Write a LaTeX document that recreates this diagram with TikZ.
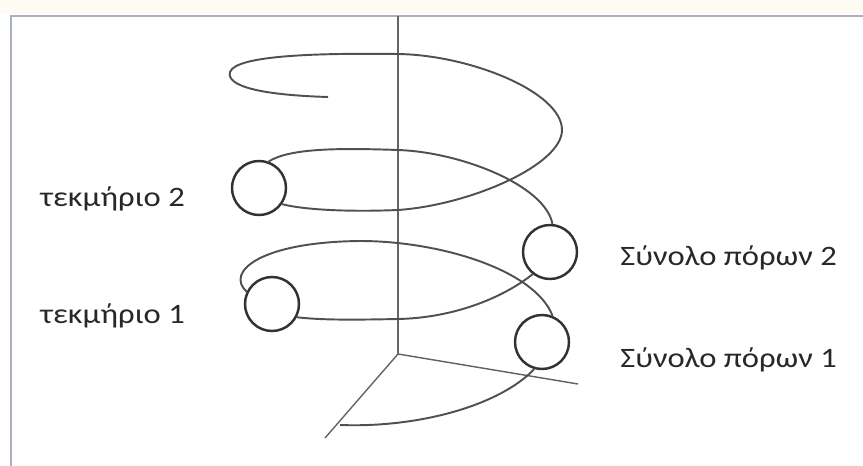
\documentclass[tikz,border=0pt]{standalone}
\usepackage{fontspec}
\setmainfont{Carlito}
\usepackage{tikz}
\usetikzlibrary{arrows,arrows.meta}

\definecolor{coilgray}{RGB}{80,80,80}
\definecolor{axisgray}{RGB}{100,100,100}
\definecolor{ringgray}{RGB}{50,50,50}
\definecolor{textgray}{RGB}{40,40,40}
\definecolor{framegray}{RGB}{168,178,190}
\definecolor{bandtint}{RGB}{253,251,243}

\begin{document}
\begin{tikzpicture}[
x=0.02cm, y=-0.02cm,
ring/.style={circle,draw=ringgray,line width=1.4pt,minimum size=1.08cm,inner sep=0pt},
coil/.style={draw=coilgray,line width=1.1pt},
axis/.style={draw=axisgray,line width=0.8pt},
lbl/.style={font=\fontsize{16}{19}\selectfont,text=textgray,anchor=base west,inner sep=0pt,xscale=1.16,transform shape} ]

\useasboundingbox (0,0) rectangle (863,466);
\fill[bandtint] (0,0) rectangle (863,14);
\draw[framegray,line width=1.7pt] (11,466) -- (11,16) -- (863,16);

\coordinate (o) at (398,354);
\coordinate (ztop) at (398,16);
\coordinate (xend) at (578,384);
\coordinate (yend) at (325,438);
\coordinate (start) at (328,97);
\coordinate (foot) at (340,425);

\draw[axis] (ztop) -- (o);
\draw[axis] (o) -- (xend);
\draw[axis] (o) -- (yend);

\node[ring] (t2) at (259,188) {};
\node[ring] (s2) at (550,252) {};
\node[ring] (t1) at (272,304) {};
\node[ring] (s1) at (542,342) {};

\draw[coil] (start) .. controls (260,95) and (226,86) .. (230,72)
  .. controls (236,55) and (320,53) .. (398,54)
  .. controls (470,55) and (562,92) .. (562,130)
  .. controls (562,165) and (470,205) .. (398,210)
  .. controls (350,212) and (305,210) .. (t2.-35);
\draw[coil] (t2.70) .. controls (290,148) and (340,148) .. (398,150)
  .. controls (460,152) and (545,185) .. (s2.85);
\draw[coil] (s2.-128) .. controls (500,300) and (450,318) .. (398,319)
  .. controls (350,320) and (320,320) .. (t1.-28);
\draw[coil] (t1.154) .. controls (225,272) and (260,242) .. (360,241)
  .. controls (440,241) and (535,270) .. (s1.68);
\draw[coil] (s1.-106) .. controls (500,405) and (420,428) .. (foot);

\node[lbl] (lt2) at (40,207) {τεκμήριο 2};
\node[lbl] (lt1) at (40,323) {τεκμήριο 1};
\node[lbl] (ls2) at (620,265) {Σύνολο πόρων 2};
\node[lbl] (ls1) at (620,367) {Σύνολο πόρων 1};

\end{tikzpicture}
\end{document}
